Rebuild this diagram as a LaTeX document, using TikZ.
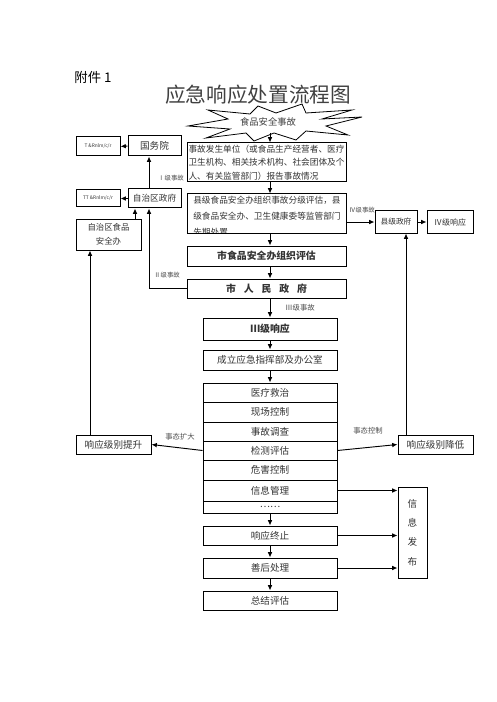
\documentclass[tikz,border=0pt]{standalone}
\usepackage{fontspec}
\setmainfont{Noto Sans CJK SC}
\usetikzlibrary{arrows.meta}
\newcommand\bx[7][]{\node[bx,#1, minimum width={(#5-#3)*0.75pt}, minimum height={(#6-#4)*0.75pt}] (#2) at ({(#3+#5)/2},{(#4+#6)/2}) {#7};}
\tikzset{
  bx/.style={draw=black, line width=0.75pt, inner sep=0pt, font=\fontsize{7.2pt}{9pt}\selectfont, text=black!80},
  lbl/.style={font=\fontsize{5.5pt}{6pt}\selectfont, text=black!70, inner sep=0pt},
  arr/.style={line width=0.7pt, -{Latex[length=4pt,width=3.5pt]}},
  ln/.style={line width=0.7pt}
}
\begin{document}
\begin{tikzpicture}[x=0.75pt,y=-0.75pt]
\useasboundingbox (0,0) rectangle (496,702);
\coordinate (xm) at (270,0);
\coordinate (xa) at (149,0);
\coordinate (xb) at (135,0);
\coordinate (xc) at (90,0);
\coordinate (xd) at (406,0);
% header
\node[inner sep=0pt, font=\fontsize{10pt}{12pt}\selectfont] (att) at (93,77) {附件 1};
\node[inner sep=0pt, font=\fontsize{15.5pt}{18pt}\selectfont, text=black!75] (title) at (258,95) {应急响应处置流程图};
% burst
\draw[line width=0.6pt, fill=white] (188,126) -- (228,119) -- (208,110) -- (250,114) -- (258,106) -- (276,113) -- (302,104) -- (306,113) -- (352,110) -- (322,119) -- (362,117) -- (326,126) -- (348,135) -- (306,131) -- (296,140) -- (274,133) -- (254,141) -- (246,133) -- (206,138) -- (230,129) -- cycle;
\node[inner sep=0pt, font=\fontsize{7pt}{8pt}\selectfont, text=black!75] (burst) at (268,122) {食品安全事故};
\coordinate (burstb) at (270,133);
% boxes
\bx[font=\fontsize{3.6pt}{4pt}\selectfont]{T}{76}{137}{120}{156}{T \&Rnlm/c/r}
\bx{gwy}{128}{136}{181}{156}{国务院}
\bx[align=left, font=\fontsize{6.5pt}{10pt}\selectfont]{report}{187}{143}{346}{182}{事故发生单位（或食品生产经营者、医疗\\卫生机构、相关技术机构、社会团体及个\\人、有关监管部门）报告事故情况}
\bx[font=\fontsize{3.6pt}{4pt}\selectfont]{TT}{76}{190}{120}{207}{TT \&Rnlm/c/r}
\bx[font=\fontsize{6.5pt}{8pt}\selectfont]{zzq}{128}{189}{181}{208}{自治区政府}
\bx{county}{187}{194}{346}{233}{}
\begin{scope}
\clip (188,195) rectangle (345,232.5);
\node[inner sep=0pt, anchor=north west, align=left, font=\fontsize{6.5pt}{12pt}\selectfont, text=black!80] (countytext) at (193,196) {县级食品安全办组织事故分级评估，县\\级食品安全办、卫生健康委等监管部门\\先期处置};
\end{scope}
\bx[font=\fontsize{5.8pt}{7pt}\selectfont]{xjzf}{375}{211}{417}{233}{县级政府}
\bx[font=\fontsize{6pt}{7pt}\selectfont]{iv}{427}{211}{473}{233}{Ⅳ级响应}
\bx[align=center, font=\fontsize{6.3pt}{10.5pt}\selectfont]{zqsafe}{76}{219}{141}{250}{自治区食品\\安全办}
\bx[font=\fontsize{7.4pt}{9pt}\selectfont\bfseries]{sfood}{187}{246}{346}{266}{市食品安全办组织评估}
\bx[font=\fontsize{7.4pt}{9pt}\selectfont\bfseries]{srm}{187}{279}{346}{298}{市\hspace{0.8em}人\hspace{0.8em}民\hspace{0.8em}政\hspace{0.8em}府}
\bx[font=\fontsize{7.4pt}{9pt}\selectfont\bfseries]{iii}{203}{318}{337}{340}{Ⅲ级响应}
\bx{hq}{203}{350}{337}{370}{成立应急指挥部及办公室}
\bx{r1}{203}{383}{337}{402}{医疗救治}
\bx{r2}{203}{402}{337}{422}{现场控制}
\bx{r3}{203}{422}{337}{441}{事故调查}
\bx{r4}{203}{441}{337}{460}{检测评估}
\bx{r5}{203}{460}{337}{480}{危害控制}
\bx{r6}{203}{480}{337}{501}{信息管理}
\bx{r7}{203}{501}{337}{513}{……}
\bx{up}{76}{435}{151}{454}{响应级别提升}
\bx{down}{398}{435}{473}{454}{响应级别降低}
\bx[align=center, font=\fontsize{7.2pt}{14.5pt}\selectfont]{info}{398}{487}{427}{578}{信\\息\\发\\布}
\bx{stop}{203}{526}{337}{545}{响应终止}
\bx{after}{203}{558}{337}{578}{善后处理}
\bx{sum}{203}{591}{337}{610}{总结评估}
% labels
\node[lbl, font=\fontsize{4.8pt}{5pt}\selectfont] (l1) at (171,178) {Ⅰ级事故};
\node[lbl, font=\fontsize{4.8pt}{5pt}\selectfont] (l2) at (167,275) {Ⅱ级事故};
\node[lbl] (l3) at (300,308) {Ⅲ级事故};
\node[lbl, font=\fontsize{4.8pt}{5pt}\selectfont] (l4) at (362,210) {Ⅳ级事故};
\node[lbl] (l5) at (180,437) {事态扩大};
\node[lbl] (l6) at (368,431) {事态控制};
% connectors
\draw[arr] (burstb) -- (report.north -| xm);
\draw[arr] (report.south -| xm) -- (county.north -| xm);
\draw[arr] (county.south -| xm) -- (sfood.north -| xm);
\draw[arr] (sfood.south -| xm) -- (srm.north -| xm);
\draw[arr] (srm.south -| xm) -- (iii.north -| xm);
\draw[arr] (iii.south -| xm) -- (hq.north -| xm);
\draw[arr] (hq.south -| xm) -- (r1.north -| xm);
\draw[arr] (r7.south -| xm) -- (stop.north -| xm);
\draw[arr] (stop.south -| xm) -- (after.north -| xm);
\draw[arr] (after.south -| xm) -- (sum.north -| xm);
\draw[arr] (xjzf.west -| county.east) -- (xjzf.west);
\draw[arr] (xjzf.east) -- (iv.west);
\draw[arr] (srm.west) -| (zzq.south -| xa);
\draw[arr] (zzq.north -| xa) -- (gwy.south -| xa);
\draw[arr] (gwy.west) -- (T.east);
\draw[arr] (zzq.west) -- (TT.east);
\draw[arr] (zqsafe.north -| xb) -- (zzq.south -| xb);
\draw[arr] (up.north -| xc) -- (zqsafe.south -| xc);
\draw[arr] (down.north -| xd) -- (xjzf.south -| xd);
\draw[arr] (r4.west) -- (up.east);
\draw[arr] (r4.east) -- (down.west);
\draw[arr] (r6.east) -- (info.west |- r6.east);
\draw[arr] (stop.east) -- (info.west |- stop.east);
\draw[arr] (after.east) -- (info.west |- after.east);
\end{tikzpicture}
\end{document}
